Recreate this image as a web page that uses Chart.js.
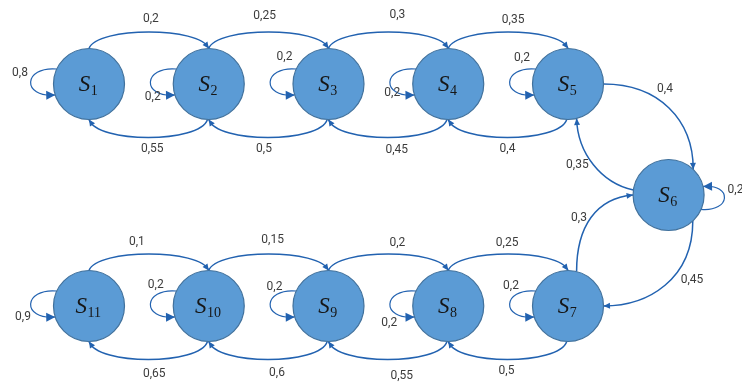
<!DOCTYPE html>
<html><head><meta charset="utf-8">
<script src="https://cdn.jsdelivr.net/npm/chart.js@4.4.1/dist/chart.umd.min.js"></script>
<style>html,body{margin:0;padding:0;background:#fff;}canvas{display:block;}</style>
</head><body>
<canvas id="c" width="742" height="385"></canvas>
<script>
// ---- data ----
const stateNumbers = [1, 2, 3, 4, 5, 6, 7, 8, 9, 10, 11];
const stateColumn  = [0, 1, 2, 3, 4, 4.84, 4, 3, 2, 1, 0];
const stateRow     = [0, 0, 0, 0, 0, 1, 2, 2, 2, 2, 2];

const transitionFrom = [1, 2, 3, 4,   2, 3, 4, 5,   5, 6, 7, 6,   11, 10, 9, 8,   10, 9, 8, 7,   1, 2, 3, 4, 5, 6, 7, 8, 9, 10, 11];
const transitionTo   = [2, 3, 4, 5,   1, 2, 3, 4,   6, 5, 6, 7,   10, 9, 8, 7,    11, 10, 9, 8,  1, 2, 3, 4, 5, 6, 7, 8, 9, 10, 11];
const transitionProb = [0.2, 0.25, 0.3, 0.35,   0.55, 0.5, 0.45, 0.4,   0.4, 0.35, 0.3, 0.45,
                        0.1, 0.15, 0.2, 0.25,   0.65, 0.6, 0.55, 0.5,
                        0.8, 0.2, 0.2, 0.2, 0.2, 0.2, 0.2, 0.2, 0.2, 0.2, 0.9];

// ---- layout / style (not data) ----
const NODE_R = 35.5;
const EDGE_COLOR = '#2262B0';
const LABEL_COLOR = '#3c3c3c';
const loopSide = {6: 'R'};
const loopLabelOffset = {1:[-69,-11], 2:[-56,13], 3:[-44,-27], 4:[-56,9], 5:[-46,-26], 6:[66,-5],
                         7:[-57,-20], 8:[-59,17], 9:[-54,-19], 10:[-53,-21], 11:[-66,11]};
const crossLayout = {
  '5-6': {a1: 0,   a2: -46, c1: [55, 0],   c2: [0, -50], lab: [-4, -19]},
  '6-5': {a1: 188, a2: 76,  c1: [-32, -7], c2: [1, 35],  lab: [-16, 0]},
  '7-6': {a1: -76, a2: 180, c1: [0, -45],  c2: [-37, 3], lab: [-12, 0]},
  '6-7': {a1: 47,  a2: 0,   c1: [0, 58],   c2: [45, 0],  lab: [27, -5]}
};
const arcLabelNudge = {
  '1-2':[2,0], '2-3':[-4,-3], '3-4':[9,-4], '4-5':[5,1],
  '2-1':[4,-1], '3-2':[-4,-1], '4-3':[9,0], '5-4':[0,-1],
  '11-10':[-12,1], '10-9':[4,-1], '9-8':[9,2], '8-7':[-1,2],
  '10-11':[6,2], '9-10':[9,1], '8-9':[14,4], '7-8':[-1,-1]
};

function fmt(v){ return String(v).replace('.', ','); }
function rad(d){ return d * Math.PI / 180; }
function bez(p0,p1,p2,p3,t){
  const u = 1 - t;
  return [u*u*u*p0[0] + 3*u*u*t*p1[0] + 3*u*t*t*p2[0] + t*t*t*p3[0],
          u*u*u*p0[1] + 3*u*u*t*p1[1] + 3*u*t*t*p2[1] + t*t*t*p3[1]];
}
function onCircle(c, a){ return [c[0] + NODE_R*Math.cos(rad(a)), c[1] + NODE_R*Math.sin(rad(a))]; }
function add(p, d){ return [p[0]+d[0], p[1]+d[1]]; }

function arrowHead(ctx, tip, from, len, wid){
  let dx = tip[0]-from[0], dy = tip[1]-from[1];
  const L = Math.hypot(dx, dy) || 1; dx /= L; dy /= L;
  const bx = tip[0] - dx*len, by = tip[1] - dy*len;
  ctx.beginPath();
  ctx.moveTo(tip[0], tip[1]);
  ctx.lineTo(bx - dy*wid/2, by + dx*wid/2);
  ctx.lineTo(bx + dy*wid/2, by - dx*wid/2);
  ctx.closePath();
  ctx.fill();
}

const diagramPlugin = {
  id: 'diagram',
  beforeDatasetsDraw(chart){
    const ctx = chart.ctx, xs = chart.scales.x, ys = chart.scales.y;
    const center = n => [xs.getPixelForValue(stateColumn[n-1]), ys.getPixelForValue(stateRow[n-1])];
    ctx.save();
    ctx.strokeStyle = EDGE_COLOR; ctx.fillStyle = EDGE_COLOR;
    const labels = [];
    for (let i = 0; i < transitionFrom.length; i++){
      const a = transitionFrom[i], b = transitionTo[i];
      const ca = center(a), cb = center(b);
      let p0, p1, p2, p3, lab, big = false;
      if (a === b){
        big = true;
        if (loopSide[a] === 'R'){
          p0 = onCircle(ca, 24); p3 = onCircle(ca, -14);
          p1 = add(p0, [30*Math.cos(rad(5)), 30*Math.sin(rad(5))]);
          p2 = add(p3, [30*Math.cos(rad(-5)), 30*Math.sin(rad(-5))]);
        } else {
          p0 = onCircle(ca, -155); p3 = onCircle(ca, 162);
          p1 = add(p0, [34*Math.cos(rad(185)), 34*Math.sin(rad(185))]);
          p2 = add(p3, [34*Math.cos(rad(175)), 34*Math.sin(rad(175))]);
        }
        const o = loopLabelOffset[a];
        lab = [ca[0] + o[0], ca[1] + o[1], loopSide[a] === 'R' ? 'left' : 'center'];
        if (loopSide[a] === 'R') lab[0] = ca[0] + 59;
      } else if (stateRow[a-1] === stateRow[b-1]){
        const over = cb[0] > ca[0];
        const k = over ? 22 : 24;
        if (over){
          p0 = onCircle(ca, -90); p3 = onCircle(cb, -90);
          p1 = add(p0, [8, -k]); p2 = add(p3, [-8, -k]);
        } else {
          p0 = onCircle(ca, 92); p3 = onCircle(cb, 90);
          p1 = add(p0, [-8, k]); p2 = add(p3, [8, k]);
        }
        const m = bez(p0,p1,p2,p3,0.5);
        const nd = arcLabelNudge[a + '-' + b] || [0,0];
        lab = [m[0] + nd[0], m[1] + (over ? -13 : 13) + nd[1], 'center'];
      } else {
        const g = crossLayout[a + '-' + b];
        p0 = onCircle(ca, g.a1); p3 = onCircle(cb, g.a2);
        p1 = add(p0, g.c1); p2 = add(p3, g.c2);
        const m = bez(p0,p1,p2,p3,0.5);
        lab = [m[0] + g.lab[0], m[1] + g.lab[1], 'center'];
      }
      ctx.lineWidth = big ? 1.2 : 1.5;
      ctx.beginPath();
      ctx.moveTo(p0[0], p0[1]);
      ctx.bezierCurveTo(p1[0], p1[1], p2[0], p2[1], p3[0], p3[1]);
      ctx.stroke();
      const back = bez(p0,p1,p2,p3,0.93);
      arrowHead(ctx, p3, back, big ? 9 : 6.5, big ? 9 : 6);
      labels.push([fmt(transitionProb[i]), lab]);
    }
    ctx.fillStyle = LABEL_COLOR;
    ctx.font = '12px Roboto';
    ctx.textBaseline = 'middle';
    labels.forEach(([t, l]) => { ctx.textAlign = l[2]; ctx.fillText(t, l[0], l[1]); });
    ctx.restore();
  },
  afterDatasetsDraw(chart){
    const ctx = chart.ctx, xs = chart.scales.x, ys = chart.scales.y;
    ctx.save();
    ctx.fillStyle = '#161616';
    ctx.textBaseline = 'alphabetic';
    ctx.textAlign = 'left';
    stateNumbers.forEach((n, i) => {
      const cx = xs.getPixelForValue(stateColumn[i]), cy = ys.getPixelForValue(stateRow[i]);
      ctx.font = 'italic 23px "Liberation Serif"';
      const wS = ctx.measureText('S').width;
      ctx.font = '14px "Liberation Serif"';
      const wN = ctx.measureText(String(n)).width;
      const x0 = cx - (wS + wN)/2 - 1;
      ctx.font = 'italic 23px "Liberation Serif"';
      ctx.fillText('S', x0, cy + 7);
      ctx.font = '14px "Liberation Serif"';
      ctx.fillText(String(n), x0 + wS + 0.5, cy + 11);
    });
    ctx.restore();
  }
};

new Chart(document.getElementById('c'), {
  type: 'scatter',
  data: {
    datasets: [{
      data: stateNumbers.map((n, i) => ({x: stateColumn[i], y: stateRow[i]})),
      pointRadius: NODE_R,
      pointHoverRadius: NODE_R,
      backgroundColor: '#5B9BD5',
      borderColor: '#41719C',
      borderWidth: 1.2,
      clip: false
    }]
  },
  options: {
    responsive: false,
    animation: false,
    devicePixelRatio: 1,
    layout: {padding: 0, autoPadding: false},
    plugins: {legend: {display: false}, tooltip: {enabled: false}},
    events: [],
    scales: {
      x: {type: 'linear', min: -89/119.75, max: (742-89)/119.75, display: false},
      y: {type: 'linear', min: -84/111, max: (385-84)/111, reverse: true, display: false}
    }
  },
  plugins: [diagramPlugin]
});
</script>
</body></html>
